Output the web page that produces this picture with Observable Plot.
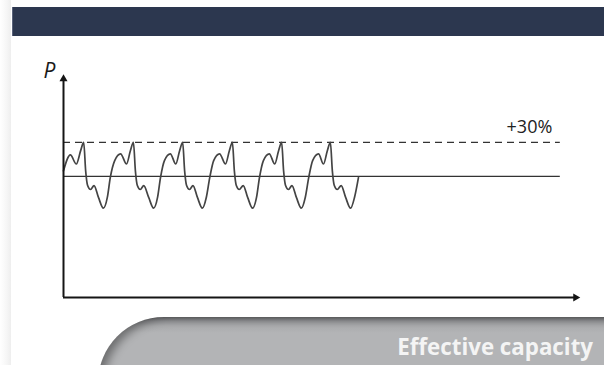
<!DOCTYPE html>
<html>
<head>
<meta charset="utf-8">
<script src="https://cdn.jsdelivr.net/npm/d3@7"></script>
<script src="https://cdn.jsdelivr.net/npm/@observablehq/plot@0.6"></script>
<style>
  html, body { margin: 0; padding: 0; background: #fff; }
  #page { position: relative; width: 604px; height: 365px; overflow: hidden; background: #fff; font-family: "Open Sans", sans-serif; }
  #shade { position: absolute; left: 0; top: 0; width: 11px; height: 365px; background: linear-gradient(to right, #fff 0%, #f6f6f6 60%, #eeeeee 100%); }
  #bar { position: absolute; left: 12px; top: 7px; width: 592px; height: 29px; background: #2c374f; border-left: 1px solid #59627a; box-sizing: border-box; }
  #chart { position: absolute; left: 0; top: 0; }
  #tab { position: absolute; left: 98px; top: 317px; width: 520px; height: 80px; border-top-left-radius: 66px 66px;
         background: linear-gradient(to bottom, #747577 0px, #96979a 4px, #aaabad 9px, #b3b4b6 16px, #b3b4b6 100%);
         box-shadow: inset 8px 4px 10px -3px rgba(0,0,0,0.4); }
  #tabtext { position: absolute; right: 11px; top: 336px; font-family: "Open Sans", sans-serif; font-weight: 700; font-size: 22.3px; line-height: 22px; color: #f4f4f4; white-space: nowrap; }
</style>
</head>
<body>
<div id="page">
  <div id="shade"></div>
  <div id="bar"></div>
  <div id="chart"></div>
  <div id="tab"></div>
  <div id="tabtext"></div>
</div>
<script>
// --- data (time in periods, power P in % of nominal capacity) ---
const waveT = [
  0.00, 0.14, 0.26, 0.35, 0.41, 0.45, 0.49, 0.55, 0.62, 0.71, 0.81, 0.89, 0.95, 1.04, 1.16, 1.28,
  1.36, 1.42, 1.46, 1.50, 1.56, 1.63, 1.73, 1.83, 1.91, 1.97, 2.05, 2.17, 2.28,
  2.36, 2.42, 2.46, 2.50, 2.56, 2.63, 2.72, 2.82, 2.90, 2.97, 3.05, 3.17, 3.29,
  3.37, 3.43, 3.47, 3.51, 3.57, 3.65, 3.74, 3.84, 3.92, 3.98, 4.06, 4.18, 4.29,
  4.37, 4.43, 4.47, 4.51, 4.57, 4.64, 4.73, 4.83, 4.91, 4.98, 5.06, 5.18, 5.28,
  5.36, 5.42, 5.46, 5.50, 5.56, 5.64, 5.73, 5.83, 5.91, 5.99
];
const waveP = [
  105, 119, 111, 123, 130, 105, 92, 88.5, 92, 81.5, 72, 81.5, 99, 114, 120, 111,
  123, 130, 105, 92, 88.5, 92, 81.5, 72, 81.5, 99, 114, 120, 111,
  123, 130, 105, 92, 88.5, 92, 81.5, 72, 81.5, 99, 114, 120, 111,
  123, 130, 105, 92, 88.5, 92, 81.5, 72, 81.5, 99, 114, 120, 111,
  123, 130, 105, 92, 88.5, 92, 81.5, 72, 81.5, 99, 114, 120, 111,
  123, 130, 105, 92, 88.5, 92, 81.5, 72, 81.5, 99
];
const nominalLevel = [100];
const peakLevel = [130];
const peakLabel = ["+30%"];
const axisLabel = ["P"];
const tabLabel = "Effective capacity";
const levelEnd = 10.09;
const xAxisEnd = 10.4;
const yAxisEnd = 186;
const xDomain = [0, 10.5];
const yDomain = [-6.8, 189.1];

const wave = waveT.map((t, i) => ({t, p: waveP[i]}));
const heads = [
  {t: 0, p: yAxisEnd, rot: 0},
  {t: xAxisEnd, p: yDomain[0], rot: 90}
];

const chart = Plot.plot({
  width: 604,
  height: 365,
  marginLeft: 63,
  marginRight: 24,
  marginTop: 75,
  marginBottom: 68,
  x: {domain: xDomain, axis: null},
  y: {domain: yDomain, axis: null},
  style: {background: "transparent", fontFamily: "Open Sans, sans-serif", overflow: "visible"},
  marks: [
    Plot.ruleY(nominalLevel, {x1: 0, x2: levelEnd, stroke: "#333", strokeWidth: 1.3}),
    Plot.ruleY(peakLevel, {x1: 0, x2: levelEnd, stroke: "#333", strokeWidth: 1.2, strokeDasharray: "7,5"}),
    Plot.line(wave, {x: "t", y: "p", curve: "monotone-x", stroke: "#444", strokeWidth: 1.7}),
    Plot.ruleX([0], {y1: yDomain[0], y2: yAxisEnd, stroke: "#151515", strokeWidth: 2}),
    Plot.ruleY([yDomain[0]], {x1: 0, x2: xAxisEnd, stroke: "#151515", strokeWidth: 2}),
    Plot.dot(heads, {x: "t", y: "p", rotate: "rot", symbol: "triangle", r: 3, fill: "#151515", stroke: "none"}),
    Plot.text(peakLabel, {x: levelEnd, y: peakLevel[0], text: d => d, dx: -8, dy: -15, textAnchor: "end", fontSize: 18, fill: "#222"}),
    Plot.text(axisLabel, {x: 0, y: yAxisEnd, text: d => d, dx: -14, dy: -8, fontSize: 21, fontStyle: "italic", fill: "#1a1a1a"})
  ]
});
document.getElementById("chart").appendChild(chart);
document.getElementById("tabtext").textContent = tabLabel;
</script>
</body>
</html>
